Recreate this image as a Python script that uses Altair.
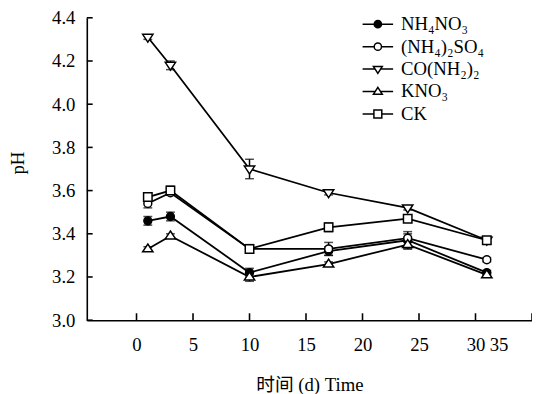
import altair as alt
import pandas as pd

# ---------------- data ----------------
days = [1, 3, 10, 17, 24, 31]
series_names = ["NH₄NO₃", "(NH₄)₂SO₄", "CO(NH₂)₂", "KNO₃", "CK"]

nh4no3 = [3.46, 3.48, 3.22, 3.32, 3.37, 3.22]
nh42so4 = [3.54, 3.59, 3.33, 3.33, 3.38, 3.28]
urea = [4.31, 4.18, 3.70, 3.59, 3.52, 3.37]
kno3 = [3.33, 3.39, 3.20, 3.26, 3.35, 3.21]
ck = [3.57, 3.60, 3.33, 3.43, 3.47, 3.37]

err_nh4no3 = [0.02, 0.02, 0.02, 0.02, 0.04, 0.01]
err_nh42so4 = [0.02, 0.01, 0.01, 0.03, 0.02, 0.01]
err_urea = [0.01, 0.02, 0.045, 0.01, 0.01, 0.01]
err_kno3 = [0.01, 0.01, 0.02, 0.01, 0.02, 0.01]
err_ck = [0.02, 0.02, 0.02, 0.02, 0.01, 0.015]

x_ticks = [0, 5, 10, 15, 20, 25, 30, 35]
y_ticks = [3.0, 3.2, 3.4, 3.6, 3.8, 4.0, 4.2, 4.4]

X_MIN, X_MAX = -4.4, 35
Y_MIN, Y_MAX = 3.0, 4.4
X_TICK_LEN = 0.52   # inward tick length in x-data units (~6 px)
Y_TICK_LEN = 0.032  # inward tick length in y-data units (~7 px)

rows = []
for name, vals, errs in zip(
    series_names,
    [nh4no3, nh42so4, urea, kno3, ck],
    [err_nh4no3, err_nh42so4, err_urea, err_kno3, err_ck],
):
    for d, v, e in zip(days, vals, errs):
        rows.append({"series": name, "day": d, "ph": v, "lo": v - e, "hi": v + e})
df = pd.DataFrame(rows)

tick_rows = []
for v in x_ticks:
    tick_rows.append({"tx": v, "tx2": v, "ty": Y_MIN, "ty2": Y_MIN + Y_TICK_LEN})
for v in y_ticks:
    tick_rows.append({"tx": X_MIN, "tx2": X_MIN + X_TICK_LEN, "ty": v, "ty2": v})
tick_df = pd.DataFrame(tick_rows)

# ---------------- styling ----------------
FONT = "Liberation Serif, Noto Sans CJK SC, serif"

fills = ["black", "white", "white", "white", "white"]
strokes = ["black"] * 5
plot_shapes = [
    "M-0.8,0A0.8,0.8,0,1,0,0.8,0A0.8,0.8,0,1,0,-0.8,0Z",
    "M-0.8,0A0.8,0.8,0,1,0,0.8,0A0.8,0.8,0,1,0,-0.8,0Z",
    "M-1.05,-0.6L1.05,-0.6L0,1.0Z",
    "M0,-1.0L1.05,0.6L-1.05,0.6Z",
    "M-0.86,-0.86H0.86V0.86H-0.86Z",
]
legend_shapes = [
    "M-3.1,0H-0.74M0.74,0H3.1M-0.74,0A0.74,0.74,0,1,0,0.74,0A0.74,0.74,0,1,0,-0.74,0Z",
    "M-3.1,0H-0.74M0.74,0H3.1M-0.74,0A0.74,0.74,0,1,0,0.74,0A0.74,0.74,0,1,0,-0.74,0Z",
    "M-3.1,0H-0.55M0.55,0H3.1M-0.9,-0.55L0.9,-0.55L0,0.85Z",
    "M-3.1,0H-0.55M0.55,0H3.1M0,-0.85L0.9,0.55L-0.9,0.55Z",
    "M-3.1,0H-0.8M0.8,0H3.1M-0.8,-0.8H0.8V0.8H-0.8Z",
]

x_scale = alt.Scale(domain=[X_MIN, X_MAX], nice=False, zero=False)
y_scale = alt.Scale(domain=[Y_MIN, Y_MAX], nice=False, zero=False)

x_axis = alt.Axis(
    values=x_ticks,
    title="时间 (d) Time",
    grid=False,
    ticks=False,
    labelPadding=16,
    labelFlush=False,
    labelOverlap=False,
    labelOffset={"condition": {"test": "datum.value == 35", "value": -34}, "value": 0},
    labelFont=FONT,
    labelFontSize=19,
    titleFont=FONT,
    titleFontSize=19,
    titleFontWeight="normal",
    titleY=65,
    titleBaseline="middle",
)
y_axis = alt.Axis(
    values=y_ticks,
    format=".1f",
    title="pH",
    grid=False,
    ticks=False,
    labelPadding=12,
    labelFont=FONT,
    labelFontSize=19,
    titleFont=FONT,
    titleFontSize=19,
    titleFontWeight="normal",
    titleX=-60,
    titleY=147,
    titleBaseline="bottom",
)

# inward axis ticks, placed through the scales (drawn first)
tick_marks = alt.Chart(tick_df).mark_rule(color="black", strokeWidth=1.6).encode(
    x=alt.X("tx:Q", scale=x_scale, axis=x_axis),
    x2="tx2:Q",
    y=alt.Y("ty:Q", scale=y_scale, axis=y_axis),
    y2="ty2:Q",
)

base = alt.Chart(df).encode(x=alt.X("day:Q", scale=x_scale, axis=x_axis))

lines = base.mark_line(color="black", strokeWidth=1.8).encode(
    y=alt.Y("ph:Q", scale=y_scale, axis=y_axis),
    detail="series:N",
)
rules = base.mark_rule(color="black", strokeWidth=1.5).encode(
    y=alt.Y("lo:Q", scale=y_scale), y2="hi:Q"
)
caps_lo = base.mark_tick(orient="horizontal", color="black", size=9, thickness=1.5).encode(
    y=alt.Y("lo:Q", scale=y_scale)
)
caps_hi = base.mark_tick(orient="horizontal", color="black", size=9, thickness=1.5).encode(
    y=alt.Y("hi:Q", scale=y_scale)
)
points = base.mark_point(filled=True, stroke="black", strokeWidth=1.5, size=100, opacity=1).encode(
    y=alt.Y("ph:Q", scale=y_scale),
    shape=alt.Shape("series:N", scale=alt.Scale(domain=series_names, range=plot_shapes), legend=None),
    fill=alt.Fill("series:N", scale=alt.Scale(domain=series_names, range=fills), legend=None),
)

leg = alt.Legend(
    title=None,
    orient="none",
    legendX=286,
    legendY=-3,
    padding=0,
    symbolSize=100,
    symbolStrokeColor="black",
    symbolStrokeWidth=1.5,
    symbolOpacity=1,
    labelOffset=14,
    rowPadding=2.8,
    labelFont=FONT,
    labelFontSize=19,
    labelColor="black",
)
# legend-only layer: no rows drawn, entries come from the explicit scale domain
legend_layer = base.transform_filter("datum.day < 0").mark_point(
    filled=True, strokeWidth=1.5, size=100
).encode(
    y=alt.Y("ph:Q", scale=y_scale),
    shape=alt.Shape("series:N", scale=alt.Scale(domain=series_names, range=legend_shapes), legend=leg),
    fill=alt.Fill("series:N", scale=alt.Scale(domain=series_names, range=fills), legend=leg),
    stroke=alt.Stroke("series:N", scale=alt.Scale(domain=series_names, range=strokes), legend=leg),
)

chart = (
    alt.layer(tick_marks, lines, rules, caps_lo, caps_hi, points, legend_layer)
    .resolve_scale(shape="independent", fill="independent", stroke="independent")
    .properties(
        width=452,
        height=307,
        autosize=alt.AutoSizeParams(type="none"),
        padding={"left": 80, "top": 7, "right": 0, "bottom": 72},
        background="white",
    )
    .configure(font=FONT)
    .configure_axis(
        domainColor="black",
        domainWidth=1.6,
        labelFont=FONT,
        labelFontSize=19,
        labelColor="black",
        titleFont=FONT,
        titleFontSize=19,
        titleFontWeight="normal",
        titleColor="black",
    )
    .configure_view(stroke=None)
)

chart.save("out.html", embed_options={"renderer": "svg", "actions": False})
